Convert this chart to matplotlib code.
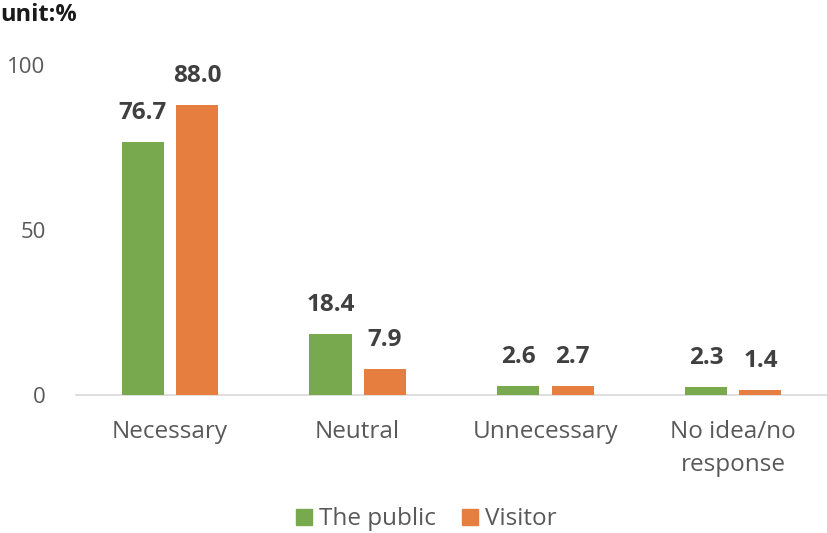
import matplotlib
matplotlib.use("Agg")
import matplotlib.pyplot as plt
import numpy as np
from matplotlib.lines import Line2D

plt.rcParams['font.family'] = ['Open Sans', 'DejaVu Sans']

categories = ["Necessary", "Neutral", "Unnecessary", "No idea/no\nresponse"]
public = [76.7, 18.4, 2.6, 2.3]
visitor = [88.0, 7.9, 2.7, 1.4]
series_names = ["The public", "Visitor"]
yticks = [0, 50, 100]

green = "#78A94F"
orange = "#E57E3F"
label_col = "#404040"
tick_col = "#595959"

fig = plt.figure(figsize=(8.27, 5.33), dpi=100)
ax = fig.add_axes([0.092, 0.259, 0.908, 0.619])

x = np.arange(len(categories))
w = 0.225
off = 0.145
b1 = ax.bar(x - off, public, width=w, color=green, zorder=3)
b2 = ax.bar(x + off, visitor, width=w, color=orange, zorder=3)

for bars, vals in ((b1, public), (b2, visitor)):
    for rect, v in zip(bars, vals):
        ax.annotate(f"{v:.1f}", (rect.get_x() + rect.get_width() / 2, v),
                    xytext=(0, 16.5), textcoords="offset points",
                    ha="center", va="baseline", fontsize=17.5,
                    fontweight="bold", color=label_col)

ax.set_xlim(-0.5, 3.5)
ax.set_ylim(0, 100)
ax.set_yticks(yticks)
ax.set_yticklabels([str(t) for t in yticks])
ax.set_xticks(x)
ax.set_xticklabels(categories)
ax.tick_params(axis="y", length=0, pad=22, labelsize=16, labelcolor=tick_col)
ax.tick_params(axis="x", length=0, pad=18, labelsize=17.5, labelcolor=tick_col)
for t in ax.get_xticklabels():
    t.set_linespacing(1.5)
for s in ("top", "right", "left"):
    ax.spines[s].set_visible(False)
ax.spines["bottom"].set_color("#D9D9D9")
ax.spines["bottom"].set_linewidth(1.2)

fig.text(0.0, 0.972, "unit:%", fontsize=17, fontweight="bold", color="#1a1a1a",
         ha="left", va="center")

handles = [Line2D([], [], marker="s", linestyle="none", markersize=12, color=green),
           Line2D([], [], marker="s", linestyle="none", markersize=12, color=orange)]
fig.legend(handles, series_names, loc="center", bbox_to_anchor=(0.513, 0.026),
           ncol=2, frameon=False, fontsize=17.5, labelcolor=tick_col,
           handletextpad=0.1, columnspacing=0.9, handlelength=1.0)

fig.savefig("out.png", dpi=100)
